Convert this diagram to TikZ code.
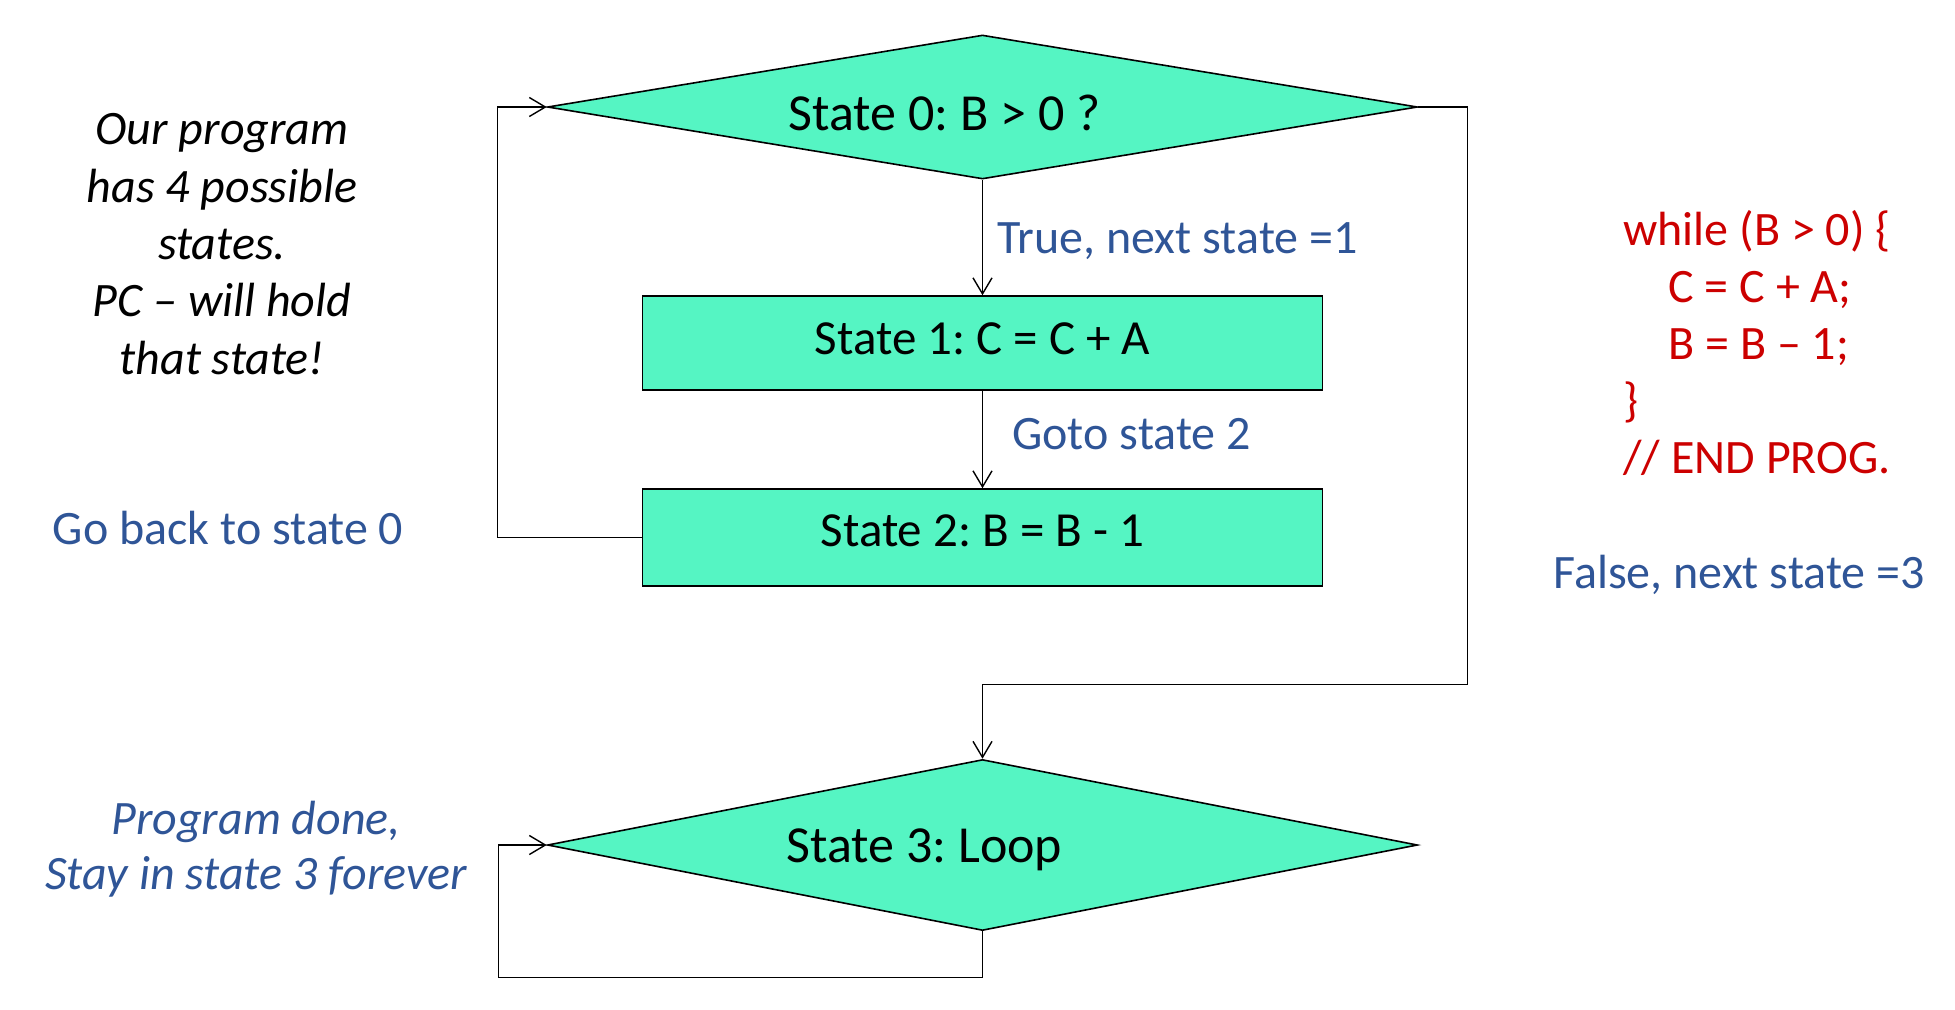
\documentclass[tikz,border=0pt]{standalone}
\usepackage{fontspec}
\setmainfont{Carlito}
\usepackage{xcolor}
\usetikzlibrary{shapes.geometric,arrows.meta}
\frenchspacing
\definecolor{statefill}{RGB}{85,245,195}
\definecolor{transition}{RGB}{47,85,151}
\definecolor{code}{RGB}{204,0,0}
\tikzstyle{statediamond}=[diamond, aspect=6, draw, line width=0.8pt, fill=statefill, minimum width=435pt, minimum height=72pt, inner sep=0pt]
\tikzstyle{statebox}=[rectangle, draw, line width=0.8pt, fill=statefill, minimum width=340pt, minimum height=47pt, text height=16pt, font=\fontsize{24.5}{29}\selectfont]
\tikzset{statetext/.style={anchor=base, inner sep=0pt, font=\fontsize{26}{30}\selectfont}}
\tikzset{transtext/.style={text=transition, inner sep=0pt, font=\fontsize{24}{28.4}\selectfont}}
\tikzset{flow/.style={line width=0.7pt, -{Straight Barb[length=8pt,width=9.5pt]}}}

\begin{document}
\begin{tikzpicture}[x=0.5pt,y=-0.5pt]
  \useasboundingbox (0,0) rectangle (1955,1009);
  %% States
  \draw (982.5,107) node[statediamond] (S0) {};
  \draw (982.5,343) node[statebox,text depth=4.9pt] (S1) {State 1: C = C + A};
  \draw (982.5,537.5) node[statebox,minimum height=48.5pt,text depth=7.4pt] (S2) {State 2: B = B - 1};
  \draw (982.5,845) node[statediamond,minimum height=85.5pt] (S3) {};
  \draw (S0) node[statetext,xshift=-19pt,yshift=-11.6pt] (T0) {State 0: B > 0 ?};
  \draw (S3) node[statetext,xshift=-29pt,yshift=-8.6pt] (T3) {State 3: Loop};

  %% Turning points
  \coordinate (turnR) at (1467.5,684.5);
  \coordinate (turnL) at (498.7,977.5);

  %% Transitions
  \draw[flow] (S0.south) -- (S1.north);
  \draw[flow] (S1.south) -- (S2.north);
  \draw[flow] (S2.west) -- ++(-72pt,0) |- (S0.west);
  \draw[flow] (S0.east) -| (turnR) -| (S3.north);
  \draw[flow] (S3.south) |- (turnL) |- (S3.west);

  %% Transition labels
  \draw (997,241) node[transtext,anchor=west] (Ltrue) {True, next state =1};
  \draw (1012,434) node[transtext,anchor=west] (Lgoto) {Goto state 2};
  \draw (228,528) node[transtext] (Lback) {Go back to state 0};
  \draw (1739,575) node[transtext] (Lfalse) {False, next state =3};
  \draw (256,849) node[transtext,align=center,font=\fontsize{24}{27.5}\selectfont\itshape] (Ldone) {Program done,\\Stay in state 3 forever};

  %% Notes
  \draw (222,244) node[align=center,inner sep=0pt,font=\fontsize{24}{28.7}\selectfont\itshape] (note) {Our program\\has 4 possible\\states.\\PC -- will hold\\that state!};
  \draw (1623,343) node[anchor=west,align=left,inner sep=0pt,text=code,font=\fontsize{24}{28.4}\selectfont] (prog) {while (B > 0) \{\\\hspace*{22.5pt}C = C + A;\\\hspace*{22.5pt}B = B -- 1;\\\}\\// END PROG.};
\end{tikzpicture}
\end{document}
